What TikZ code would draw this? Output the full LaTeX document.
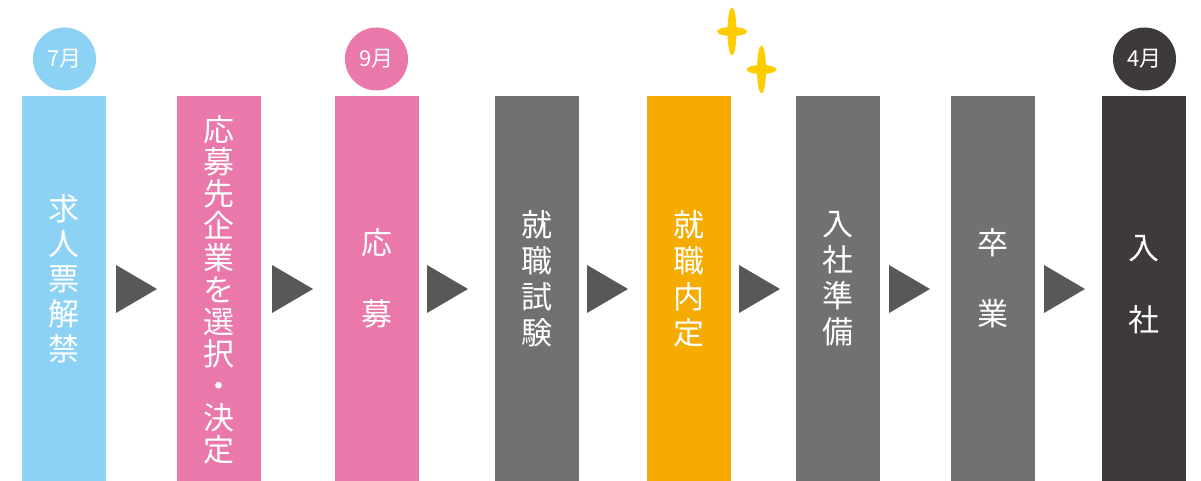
\documentclass[tikz,border=0pt]{standalone}
\usepackage{fontspec}
\newfontfamily\jpfont{Noto Sans CJK JP}

\definecolor{skyblue}{HTML}{8CD2F5}
\definecolor{rosepink}{HTML}{EB78AB}
\definecolor{stepgray}{HTML}{727171}
\definecolor{offerorange}{HTML}{F6AB00}
\definecolor{darkgray}{HTML}{3E3A39}
\definecolor{arrowgray}{HTML}{595757}
\definecolor{sparkyellow}{HTML}{FFCC00}

\begin{document}
\begin{tikzpicture}[x=1pt,y=-1pt,
  bar/.style={rectangle, inner sep=0pt, minimum width=84pt, minimum height=385pt},
  steptext/.style={inner sep=0pt, align=center, text=white, font=\jpfont\fontsize{31}{35}\selectfont},
  month/.style={circle, inner sep=0pt, minimum size=63pt, text=white, font=\jpfont\fontsize{22}{24}\selectfont},
  tri/.style={fill=arrowgray},
  spark/.style={fill=sparkyellow}]
\useasboundingbox (0,0) rectangle (1201,481);

% month badges
\node[month, fill=skyblue] (m7) at (64.5,59) {7月};
\node[month, fill=rosepink] (m9) at (376.5,59) {9月};
\node[month, fill=darkgray] (m4) at (1144.5,59) {4月};

% bars
\node[bar, fill=skyblue] (b1) at (63.5,288.5) {};
\node[bar, fill=rosepink] (b2) at (218.5,288.5) {};
\node[bar, fill=rosepink] (b3) at (376.5,288.5) {};
\node[bar, fill=stepgray] (b4) at (536.5,288.5) {};
\node[bar, fill=offerorange] (b5) at (689,288.5) {};
\node[bar, fill=stepgray] (b6) at (838,288.5) {};
\node[bar, fill=stepgray] (b7) at (992.5,288.5) {};
\node[bar, fill=darkgray] (b8) at (1144,288.5) {};

% labels
\node[steptext] (t1) at (b1 |- 0,278.5) {求\\人\\票\\解\\禁};
\node[steptext, font=\jpfont\fontsize{31}{32}\selectfont] (t2) at (b2 |- 0,290) {応\\募\\先\\企\\業\\を\\選\\択\\・\\決\\定};
\node[steptext] (t3) at (b3 |- 0,278.5) {応\\[36pt]募};
\node[steptext, font=\jpfont\fontsize{31}{36}\selectfont] (t4) at (b4 |- 0,279) {就\\職\\試\\験};
\node[steptext, font=\jpfont\fontsize{31}{36}\selectfont] (t5) at (b5 |- 0,279) {就\\職\\内\\定};
\node[steptext, font=\jpfont\fontsize{31}{36}\selectfont] (t6) at (b6 |- 0,279) {入\\社\\準\\備};
\node[steptext] (t7) at (b7 |- 0,278.5) {卒\\[36pt]業};
\node[steptext] (t8) at (b8 |- 0,285) {入\\[37pt]社};

% arrows between bars
\foreach \x in {116,272,427,587,739,889,1044}
  \fill[tri] (\x,265) -- (\x+41,289) -- (\x,313) -- cycle;

% sparkles
\fill[spark] (732,31.5) ellipse [x radius=4.5pt, y radius=24pt];
\fill[spark] (732,31.5) ellipse [x radius=15pt, y radius=4.5pt];
\fill[spark] (761.5,69.5) ellipse [x radius=4.5pt, y radius=24pt];
\fill[spark] (761.5,69.5) ellipse [x radius=15pt, y radius=4.5pt];
\end{tikzpicture}
\end{document}
